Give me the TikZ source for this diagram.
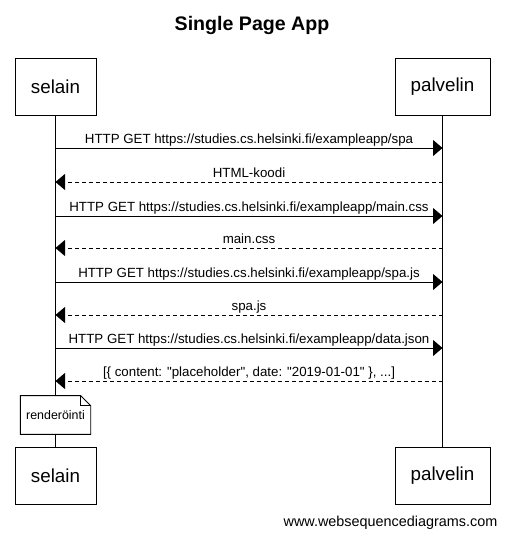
\documentclass[tikz,border=0pt]{standalone}
\usepackage{fontspec}
\setmainfont{Liberation Sans}
\usetikzlibrary{arrows.meta}
\tikzset{
  actor/.style={draw, line width=0.9pt, minimum width=81pt, minimum height=57pt, inner sep=0pt, font=\fontsize{18.8}{20}\selectfont},
  actorp/.style={actor, minimum width=95pt},
  life/.style={line width=0.9pt},
  msg/.style={line width=0.9pt, -{Triangle[length=9.5pt,width=16pt]}},
  reply/.style={msg, dash pattern=on 4pt off 3pt},
  lbl/.style={midway, anchor=base, yshift=4.5pt, inner sep=0pt, font=\fontsize{13.3}{15}\selectfont},
  notebox/.style={minimum width=70pt, minimum height=38.3pt, inner sep=0pt, font=\fontsize{12.4}{14}\selectfont},
}
\begin{document}
\begin{tikzpicture}[x=1pt,y=-1pt]
\useasboundingbox[fill=white] (0,0) rectangle (504,538);
\node[font=\bfseries\fontsize{19.6}{22}\selectfont] (title) at (252,25) {Single Page App};
\node[actor] (sTop) at (55.5,86.5) {selain};
\node[actorp] (pTop) at (442.5,86.5) {palvelin};
\node[actor] (sBot) at (55.5,475.5) {selain};
\node[actorp] (pBot) at (442.5,475.5) {palvelin};
\draw[life] (sTop.south) -- (sBot.north);
\draw[life] (pTop.south) -- (pBot.north);
% message anchors
\coordinate (s1) at (55.5,148); \coordinate (p1) at (442.5,148);
\coordinate (s2) at (55.5,182); \coordinate (p2) at (442.5,182);
\coordinate (s3) at (55.5,216); \coordinate (p3) at (442.5,216);
\coordinate (s4) at (55.5,248); \coordinate (p4) at (442.5,248);
\coordinate (s5) at (55.5,282); \coordinate (p5) at (442.5,282);
\coordinate (s6) at (55.5,315); \coordinate (p6) at (442.5,315);
\coordinate (s7) at (55.5,348); \coordinate (p7) at (442.5,348);
\coordinate (s8) at (55.5,381); \coordinate (p8) at (442.5,381);
\draw[msg] (s1) -- (p1) node[lbl] (m1) {HTTP GET https://studies.cs.helsinki.fi/exampleapp/spa};
\draw[reply] (p2) -- (s2) node[lbl] (m2) {HTML-koodi};
\draw[msg] (s3) -- (p3) node[lbl] (m3) {HTTP GET https://studies.cs.helsinki.fi/exampleapp/main.css};
\draw[reply] (p4) -- (s4) node[lbl] (m4) {main.css};
\draw[msg] (s5) -- (p5) node[lbl] (m5) {HTTP GET https://studies.cs.helsinki.fi/exampleapp/spa.js};
\draw[reply] (p6) -- (s6) node[lbl] (m6) {spa.js};
\draw[msg] (s7) -- (p7) node[lbl] (m7) {HTTP GET https://studies.cs.helsinki.fi/exampleapp/data.json};
\draw[reply] (p8) -- (s8) node[lbl] (m8) {[\{ content: \textquotedbl placeholder\textquotedbl, date: \textquotedbl 2019-01-01\textquotedbl\ \}, ...]};
% note
\node[notebox] (note) at (55.5,415) {};
\draw[line width=0.9pt, fill=white] (note.north west) -- ([xshift=-10pt]note.north east) -- ([yshift=-10pt]note.north east) -- (note.south east) -- (note.south west) -- cycle;
\draw[line width=0.6pt] ([xshift=-10pt]note.north east) -- ([xshift=-10pt,yshift=-10pt]note.north east) -- ([yshift=-10pt]note.north east);
\node[notebox] at (note.center) {renderöinti};
\node[font=\fontsize{14.4}{16}\selectfont] (footer) at (390.5,523) {www.websequencediagrams.com};
\end{tikzpicture}
\end{document}
